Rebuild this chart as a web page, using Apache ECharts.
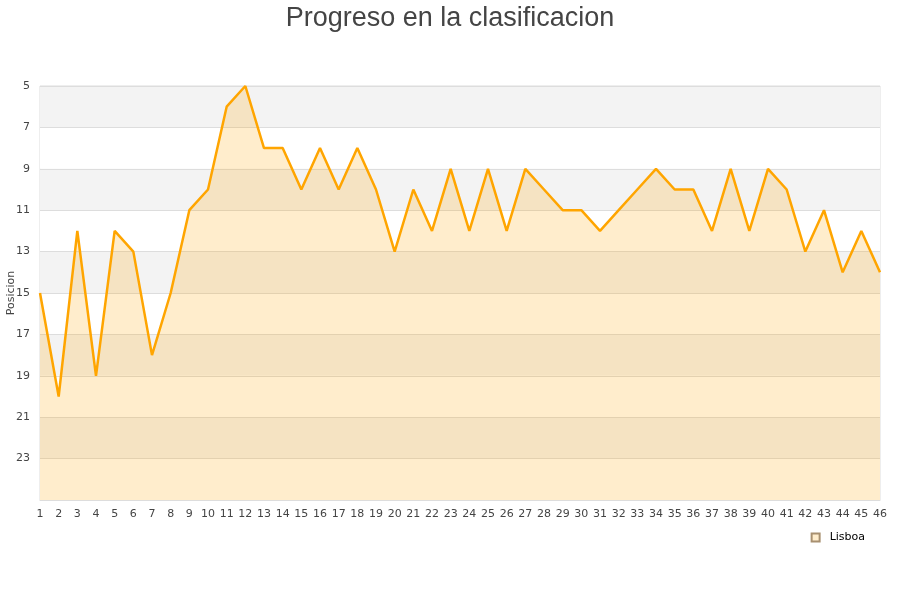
<!DOCTYPE html>
<html>
<head>
<meta charset="utf-8">
<script src="https://cdn.jsdelivr.net/npm/echarts@6/dist/echarts.min.js"></script>
<style>html,body{margin:0;padding:0;background:#fff}#main{width:900px;height:600px}</style>
</head>
<body>
<div id="main"></div>
<script>
var jornadas = ['1','2','3','4','5','6','7','8','9','10','11','12','13','14','15','16','17','18','19','20','21','22','23','24','25','26','27','28','29','30','31','32','33','34','35','36','37','38','39','40','41','42','43','44','45','46'];
var lisboa = [15,20,12,19,12,13,18,15,11,10,6,5,8,8,10,8,10,8,10,13,10,12,9,12,9,12,9,10,11,11,12,11,10,9,10,10,12,9,12,9,10,13,11,14,12,14];
var titleText = 'Progreso en la clasificacion';
var seriesName = 'Lisboa';
var yName = 'Posicion';

var chart = echarts.init(document.getElementById('main'), null, {renderer: 'canvas'});
chart.setOption({
  animation: false,
  backgroundColor: '#fff',
  title: {
    text: titleText,
    left: 'center',
    top: 0,
    textStyle: {fontFamily: 'Liberation Sans, Arial, sans-serif', fontSize: 27, fontWeight: 'normal', color: '#444'}
  },
  legend: {
    data: [{name: seriesName, icon: 'rect'}],
    right: 30,
    top: 527,
    itemWidth: 8,
    itemHeight: 8,
    itemGap: 5,
    textStyle: {fontFamily: 'DejaVu Sans', fontSize: 11, color: '#000', padding: [0, 0, 0, 5]}
  },
  grid: {left: 40, right: 20, top: 86, bottom: 100, containLabel: false, outerBoundsMode: 'none', show: true, borderColor: '#ddd', borderWidth: 1, backgroundColor: 'transparent'},
  xAxis: {
    type: 'category',
    data: jornadas,
    boundaryGap: false,
    axisLine: {lineStyle: {color: '#ddd'}},
    axisTick: {show: false},
    axisLabel: {interval: 0, color: '#444', fontFamily: 'DejaVu Sans', fontSize: 11, margin: 9},
    splitLine: {show: false}
  },
  yAxis: {
    type: 'value',
    inverse: true,
    min: 5,
    max: 25,
    interval: 2,
    name: yName,
    nameLocation: 'middle',
    nameGap: 23,
    nameMoveOverlap: false,
    nameTextStyle: {fontFamily: 'DejaVu Sans', fontSize: 11, color: '#444'},
    axisLine: {show: false},
    axisTick: {show: false},
    axisLabel: {color: '#444', fontFamily: 'DejaVu Sans', fontSize: 11, showMaxLabel: false, margin: 10},
    splitLine: {show: true, lineStyle: {color: '#ddd'}},
    splitArea: {show: true, areaStyle: {color: ['#f3f3f3', '#ffffff']}}
  },
  series: [{
    name: seriesName,
    type: 'line',
    data: lisboa,
    symbol: 'none',
    lineStyle: {color: '#ffa500', width: 2.5},
    itemStyle: {color: '#ffedcc', borderColor: '#a89070', borderWidth: 1},
    areaStyle: {color: 'rgba(255,165,0,0.2)', opacity: 1, origin: 'end'}
  }]
});
</script>
</body>
</html>
